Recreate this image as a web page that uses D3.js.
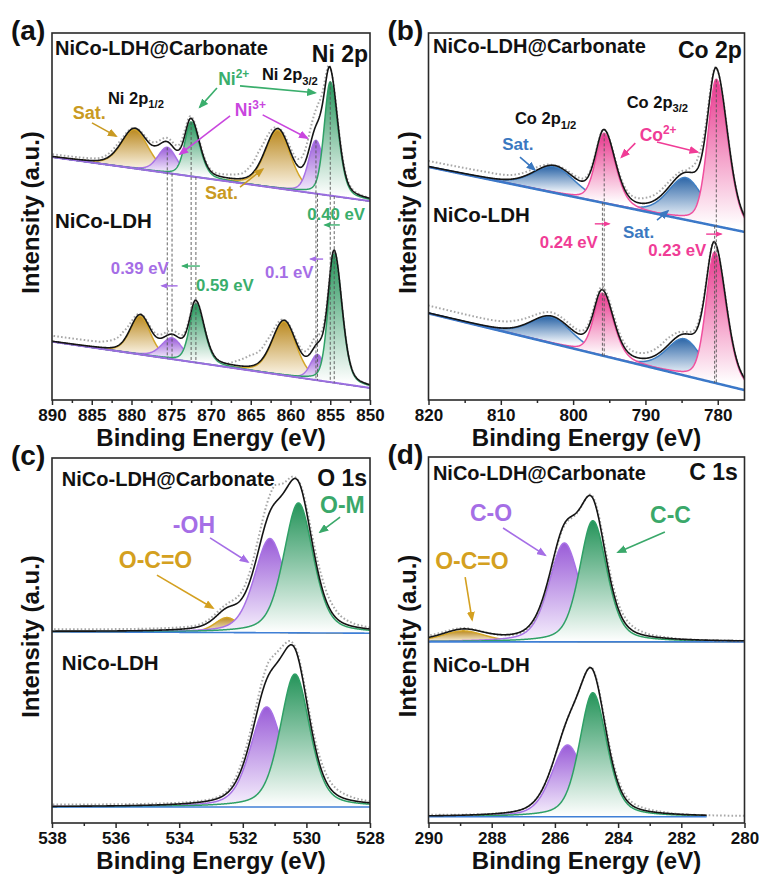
<!DOCTYPE html>
<html>
<head>
<meta charset="utf-8">
<script src="https://cdn.jsdelivr.net/npm/d3@7/dist/d3.min.js"></script>
<style>
  html, body { margin: 0; padding: 0; background: #fff; }
  svg text { font-family: Arial, "Liberation Sans", Helvetica, sans-serif; font-weight: bold; }
</style>
</head>
<body>
<svg id="chart" width="759" height="875"></svg>
<script>
// ======================= DATA =======================
// Intensities are in arbitrary units (0-100 across each panel's height).
// Each fitted component: centre (eV), height, FWHM on the high-BE side, FWHM on the low-BE side.

// ---- (a) Ni 2p ----
const niTicks = [890, 885, 880, 875, 870, 865, 860, 855, 850];
const niMinorTicks = [887.5, 882.5, 877.5, 872.5, 867.5, 862.5, 857.5, 852.5];
const niMix = 0.3;
const niCarbBackground = [66.2, 54.2];            // at 890 eV, at 850 eV
const niCarbKind   = ["sat", "ni3", "ni2", "sat", "ni3", "ni2"];
const niCarbCenter = [879.6, 875.5, 872.5, 861.6, 856.8, 855.0];
const niCarbHeight = [10.6, 7.0, 14.8, 15.8, 14.5, 31.0];
const niCarbFwhmHi = [4.0, 2.8, 1.9, 3.8, 2.2, 1.8];
const niCarbFwhmLo = [4.0, 2.8, 2.5, 3.8, 2.4, 2.3];
const niCarbResidE = [890, 884, 882, 879.6, 877, 875.5, 873.4, 872.5, 870, 866, 864, 863, 861.6, 859.4, 857.6, 856.4, 855, 853.5, 850];
const niCarbResidV = [0.6, 0.6, 1.1, 0, 1, 1, 1.5, 0.5, 0.4, 1.4, 3.5, 2.5, 0, 1.5, 4, 4.5, 0, 0.6, 0];

const niLdhBackground = [15.9, 3.3];
const niLdhKind   = ["sat", "ni3", "ni2", "sat", "ni3", "ni2"];
const niLdhCenter = [878.9, 874.9, 871.9, 860.8, 856.6, 854.5];
const niLdhHeight = [10.5, 5.8, 16.0, 14.6, 7.0, 35.0];
const niLdhFwhmHi = [3.0, 3.1, 1.9, 3.6, 2.1, 1.8];
const niLdhFwhmLo = [3.0, 3.1, 2.5, 3.6, 2.1, 2.3];
const niLdhResidE = [890, 884, 881, 878.9, 876.5, 874, 871.9, 868, 865, 863, 860.8, 858.5, 857, 856, 854.5, 852, 850];
const niLdhResidV = [1.5, 1.5, 2.5, 0, 1, 1, 0, 0, 3.0, 3.0, 0, 1, 2.5, 1.5, 0, 0, 0];

// ---- (b) Co 2p ----
const coTicks = [820, 810, 800, 790, 780];
const coMinorTicks = [815, 805, 795, 785];
const coMix = 0.3;
const coCarbBackground = [63.5, 45.8];            // at 820 eV, at 776.3 eV
const coCarbKind   = ["cosat", "co2", "cosat", "co2"];
const coCarbCenter = [802.6, 795.7, 784.4, 780.2];
const coCarbHeight = [7.1, 19.0, 11.5, 40.0];
const coCarbFwhmHi = [6.9, 2.8, 5.8, 2.8];
const coCarbFwhmLo = [6.9, 3.6, 5.8, 3.8];
const coCarbResidE = [820, 812, 805, 802.6, 799, 795.7, 790, 787, 784.4, 782.5, 780.2, 778, 776.3];
const coCarbResidV = [1.5, 1.5, 0.8, 0, 0.8, 0, 1.5, 1.5, 0.5, 3, 0, 0, 0];

const coLdhBackground = [23.6, 2.7];
const coLdhKind   = ["cosat", "co2", "cosat", "co2"];
const coLdhCenter = [803.0, 795.95, 784.6, 780.43];
const coLdhHeight = [7.1, 17.0, 10.0, 35.6];
const coLdhFwhmHi = [6.9, 2.8, 5.8, 2.8];
const coLdhFwhmLo = [6.9, 3.6, 5.8, 3.8];
const coLdhResidE = [820, 808, 804, 800, 796, 790, 787, 784.6, 782.5, 780.4, 776.3];
const coLdhResidV = [2, 1.8, 1, 1, 0.8, 1.5, 2, 0.5, 1, 0, 0];

// ---- (c) O 1s ----
const oTicks = [538, 536, 534, 532, 530, 528];
const oMinorTicks = [537, 535, 533, 531, 529];
const oMix = 0.4;
const oCarbBackground = [52.4, 52.0];             // at 538 eV, at 528 eV
const oCarbKind   = ["oco", "oh", "om"];
const oCarbCenter = [532.5, 531.15, 530.25];
const oCarbHeight = [4.1, 25.8, 35.6];
const oCarbFwhmHi = [0.9, 1.15, 1.1];
const oCarbFwhmLo = [0.9, 1.15, 1.1];
const oCarbResidE = [538, 536, 533.5, 532.5, 532, 531.5, 531, 530.7, 530.3, 529.8, 529.5, 529.2, 528.9, 528.5, 528];
const oCarbResidV = [0.5, 0.5, 0.5, 1, 2, 3.5, 5, 2.5, 0, 2, 2.8, 2.4, 1.5, 0.8, 0.4];

const oLdhBackground = [4.4, 4.4];
const oLdhKind   = ["oh", "om"];
const oLdhCenter = [531.25, 530.36];
const oLdhHeight = [27.4, 36.4];
const oLdhFwhmHi = [1.2, 1.1];
const oLdhFwhmLo = [1.2, 1.1];
const oLdhResidE = [538, 533, 532.5, 532, 531.6, 531.2, 530.8, 530.4, 530, 529.5, 529, 528.5, 528];
const oLdhResidV = [0.5, 0.3, 0.5, 1.8, 2.6, 3.6, 2.6, 0.5, 1.2, 2.2, 1.5, 0.8, 0.4];

// ---- (d) C 1s ----
const cTicks = [290, 288, 286, 284, 282, 280];
const cMinorTicks = [289, 287, 285, 283, 281];
const cMix = 0.4;
const cCarbBackground = [49.5, 49.5];             // at 290 eV, at 280 eV
const cCarbKind   = ["oco", "co", "cc"];
const cCarbCenter = [288.9, 285.7, 284.8];
const cCarbHeight = [3.0, 27.0, 33.1];
const cCarbFwhmHi = [1.6, 1.15, 1.0];
const cCarbFwhmLo = [1.6, 1.15, 1.05];
const cCarbResidE = [290, 288, 286.5, 285.5, 285, 284.3, 283.8, 283, 282, 280];
const cCarbResidV = [0.5, 0, -0.5, -0.5, 0, 1.5, 1.5, 0.5, 0, 0];

const cLdhBackground = [1.7, 1.7];
const cLdhFitRange = [290, 281.2];
const cLdhKind   = ["co", "cc"];
const cLdhCenter = [285.6, 284.8];
const cLdhHeight = [19.6, 33.9];
const cLdhFwhmHi = [1.2, 1.0];
const cLdhFwhmLo = [1.2, 1.05];
const cLdhResidE = [290, 288, 286, 285, 284.2, 283.8, 283, 282, 280];
const cLdhResidV = [0.3, 0, 0, 0, 1, 1, 0.5, 0, 0];

// ======================= DRAWING =======================
const svg = d3.select("#chart");
const defs = svg.append("defs");

const GOLD   = { stroke: "#d4a628", top: "#bb8a22", bottom: "#faf3e4" };
const PURPLE = { stroke: "#a872e6", top: "#9a5cd8", bottom: "#f7f1fd" };
const GREEN  = { stroke: "#2fa066", top: "#25945a", bottom: "#ffffff" };
const PINK   = { stroke: "#f04f9e", top: "#e8378d", bottom: "#ffffff" };
const BLUE   = { stroke: "#3f7fc4", top: "#2e67a8", bottom: "#f4f8fc" };
const STYLE = { sat: GOLD, oco: GOLD, ni3: PURPLE, oh: PURPLE, co: PURPLE,
                ni2: GREEN, om: GREEN, cc: GREEN, co2: PINK, cosat: BLUE };
const DRAW_ORDER = { sat: 0, cosat: 0, oco: 0, ni3: 1, oh: 1, co: 1, ni2: 2, co2: 2, om: 2, cc: 2 };

let uid = 0;
function gradient(st, y1, y2) {
  const id = "gr" + (uid++);
  const lg = defs.append("linearGradient").attr("id", id)
    .attr("gradientUnits", "userSpaceOnUse")
    .attr("x1", 0).attr("x2", 0).attr("y1", y1).attr("y2", y2);
  lg.append("stop").attr("offset", 0).attr("stop-color", st.top);
  lg.append("stop").attr("offset", 1).attr("stop-color", st.bottom);
  return id;
}
const markerCache = {};
function marker(color, size) {
  const key = color + "_" + size;
  if (markerCache[key]) return markerCache[key];
  const id = "mk" + (uid++);
  defs.append("marker").attr("id", id)
    .attr("viewBox", "0 0 10 10").attr("refX", 8).attr("refY", 5)
    .attr("markerUnits", "userSpaceOnUse")
    .attr("markerWidth", size).attr("markerHeight", size * 0.8)
    .attr("preserveAspectRatio", "none")
    .attr("orient", "auto")
    .append("path").attr("d", "M0,0 L10,5 L0,10 Z").attr("fill", color);
  markerCache[key] = id;
  return id;
}

function spec(background, kind, center, height, fwHi, fwLo, residE, residV, fit) {
  return { background, kind, center, height, fwHi, fwLo, residE, residV, fit };
}

function model(s, dom, mix) {
  const base = E => s.background[0] + (s.background[1] - s.background[0]) * (E - dom[0]) / (dom[1] - dom[0]);
  const comp = (i, E) => {
    const d = E - s.center[i];
    const w = d >= 0 ? s.fwHi[i] : s.fwLo[i];
    const t = d / w;
    return s.height[i] * (mix / (1 + 4 * t * t) + (1 - mix) * Math.exp(-4 * Math.LN2 * t * t));
  };
  const env = E => base(E) + d3.sum(s.center, (c, i) => comp(i, E));
  return { s, base, comp, env };
}

function richText(g, px, py, parts, size, color, anchor) {
  const t = g.append("text").attr("x", px).attr("y", py)
    .attr("font-size", size).attr("fill", color)
    .attr("text-anchor", anchor || "start");
  parts.forEach(([str, mode]) => {
    const ts = t.append("tspan").text(str);
    if (mode === "sub") ts.attr("font-size", size * 0.68).attr("dy", size * 0.28);
    else if (mode === "sup") ts.attr("font-size", size * 0.68).attr("dy", -size * 0.42);
  });
  return t;
}

function drawPanel(p) {
  const x = d3.scaleLinear().domain(p.xDomain).range([p.left, p.right]);
  const y = d3.scaleLinear().domain([0, 100]).range([p.bottom, p.top]);
  const g = svg.append("g");
  const clipId = "clip" + p.id;
  defs.append("clipPath").attr("id", clipId).append("rect")
    .attr("x", p.left).attr("y", p.top)
    .attr("width", p.right - p.left).attr("height", p.bottom - p.top);
  const plot = g.append("g").attr("clip-path", `url(#${clipId})`);

  const lo = Math.min(...p.xDomain), hi = Math.max(...p.xDomain);
  const models = p.spectra.map(s => model(s, p.xDomain, p.mix));

  models.forEach(m => {
    const s = m.s;
    const fit = s.fit || p.xDomain;
    const fLo = Math.min(...fit), fHi = Math.max(...fit);
    const grid = d3.range(fLo, fHi + p.step / 2, p.step);
    const order = d3.range(s.center.length)
      .sort((a, b) => DRAW_ORDER[s.kind[a]] - DRAW_ORDER[s.kind[b]]);
    order.forEach(i => {
      const st = STYLE[s.kind[i]];
      const c = s.center[i];
      const gid = gradient(st, y(m.base(c) + s.height[i]), y(m.base(c)));
      plot.append("path").datum(grid)
        .attr("fill", `url(#${gid})`)
        .attr("d", d3.area().x(E => x(E)).y0(E => y(m.base(E))).y1(E => y(m.base(E) + m.comp(i, E))));
      plot.append("path").datum(grid)
        .attr("fill", "none").attr("stroke", st.stroke).attr("stroke-width", 1.5)
        .attr("d", d3.line().x(E => x(E)).y(E => y(m.base(E) + m.comp(i, E))));
    });
    // background line
    plot.append("path").datum(grid)
      .attr("fill", "none").attr("stroke", p.baseColor).attr("stroke-width", p.baseWidth)
      .attr("d", d3.line().x(E => x(E)).y(E => y(m.base(E))));
    // measured data (grey dots)
    const resid = d3.scaleLinear().domain(s.residE).range(s.residV).clamp(true);
    const dgrid = d3.range(lo, hi + p.step / 2, p.step);
    plot.append("path").datum(dgrid)
      .attr("fill", "none").attr("stroke", "#a8a8a8").attr("stroke-width", 2)
      .attr("stroke-dasharray", "1.6,2.2")
      .attr("d", d3.line().x(E => x(E)).y(E => y(m.env(E) + resid(E))));
    // fitted envelope
    plot.append("path").datum(grid)
      .attr("fill", "none").attr("stroke", "#151515").attr("stroke-width", 1.6)
      .attr("d", d3.line().x(E => x(E)).y(E => y(m.env(E))));
  });

  // dashed reference lines through peak centres
  if (p.dashKinds) {
    const top = models[0], bot = models[1];
    models.forEach((m, si) => {
      m.s.center.forEach((c, i) => {
        if (!p.dashKinds.includes(m.s.kind[i])) return;
        const y1 = si === 0 ? y(top.base(c) + m.s.height[i]) : y(top.base(c));
        plot.append("line")
          .attr("x1", x(c)).attr("x2", x(c))
          .attr("y1", y1).attr("y2", y(bot.base(c)))
          .attr("stroke", "#555").attr("stroke-width", 0.9)
          .attr("stroke-dasharray", "3,2");
      });
    });
  }

  // annotations
  const ann = g.append("g");
  const T = (E, v, parts, size, color, anchor) => richText(ann, x(E), y(v), parts, size, color, anchor);
  const A = (E1, v1, E2, v2, color, w, size) => ann.append("line")
    .attr("x1", x(E1)).attr("y1", y(v1)).attr("x2", x(E2)).attr("y2", y(v2))
    .attr("stroke", color).attr("stroke-width", w || 1.6)
    .attr("marker-end", `url(#${marker(color, size || 10)})`);
  p.annotate(T, A);

  // frame
  g.append("rect").attr("x", p.left).attr("y", p.top)
    .attr("width", p.right - p.left).attr("height", p.bottom - p.top)
    .attr("fill", "none").attr("stroke", "#2a2a2a").attr("stroke-width", 1.6);

  // axes
  const major = g.append("g").attr("transform", `translate(0,${p.bottom})`)
    .call(d3.axisBottom(x).tickValues(p.ticks).tickSize(5).tickPadding(4)
      .tickSizeOuter(0).tickFormat(d3.format("d")));
  const minor = g.append("g").attr("transform", `translate(0,${p.bottom})`)
    .call(d3.axisBottom(x).tickValues(p.minor).tickSize(3).tickSizeOuter(0).tickFormat(""));
  [major, minor].forEach(a => {
    a.select(".domain").remove();
    a.selectAll("line").attr("stroke", "#2a2a2a").attr("stroke-width", 1.5);
  });
  major.attr("font-family", null).attr("font-size", null);
  major.selectAll("text").attr("font-size", 17).attr("fill", "#111");

  // axis titles
  g.append("text").attr("x", (p.left + p.right) / 2).attr("y", p.bottom + 46)
    .attr("text-anchor", "middle").attr("font-size", 24).attr("fill", "#111")
    .text("Binding Energy (eV)");
  g.append("text")
    .attr("transform", `translate(${p.left - 13},${(p.top + p.bottom) / 2 - 4}) rotate(-90)`)
    .attr("text-anchor", "middle").attr("font-size", 24).attr("fill", "#111")
    .text("Intensity (a.u.)");
  g.append("text").attr("x", p.left - 41).attr("y", p.top + 7)
    .attr("font-size", 28).attr("fill", "#111").text(p.label);
}

const INK = "#111";
const NI2 = "#3aae6c", NI3 = "#c946de", SATG = "#c99a22", LPURP = "#a56ee6";
const CO2C = "#f03c96", SATB = "#3a78c0";
const OM = "#3aa86a", OH = "#a56ee6", OCO = "#d4a020";

// (a) Ni 2p
drawPanel({
  id: "a", label: "(a)", left: 52, right: 370, top: 33, bottom: 400,
  xDomain: [890, 850], ticks: niTicks, minor: niMinorTicks, mix: niMix, step: 0.05,
  baseColor: "#9a6ee0", baseWidth: 2, dashKinds: ["ni2", "ni3"],
  spectra: [
    spec(niCarbBackground, niCarbKind, niCarbCenter, niCarbHeight, niCarbFwhmHi, niCarbFwhmLo, niCarbResidE, niCarbResidV),
    spec(niLdhBackground, niLdhKind, niLdhCenter, niLdhHeight, niLdhFwhmHi, niLdhFwhmLo, niLdhResidE, niLdhResidV)
  ],
  annotate: (T, A) => {
    T(889.62, 94.0, [["NiCo-LDH@Carbonate"]], 20, INK);
    T(850.25, 92.1, [["Ni 2p"]], 23, INK, "end");
    T(889.62, 46.9, [["NiCo-LDH"]], 20.5, INK);
    T(882.96, 80.7, [["Ni 2p"], ["1/2", "sub"]], 16.5, INK);
    T(863.6, 87.2, [["Ni 2p"], ["3/2", "sub"]], 16.5, INK);
    T(869.1, 85.8, [["Ni"], ["2+", "sup"]], 17.5, NI2);
    T(867.0, 77.4, [["Ni"], ["3+", "sup"]], 17.5, NI3);
    T(887.4, 76.6, [["Sat."]], 18, SATG);
    T(870.75, 54.8, [["Sat."]], 18, SATG);
    A(884.97, 75.5, 881.95, 71.9, SATG);
    A(866.35, 58.0, 863.5, 62.9, SATG);
    A(869.25, 85.0, 871.4, 79.8, NI2);
    A(866.35, 85.6, 856.9, 83.7, NI2);
    A(867.6, 77.4, 873.9, 67.0, NI3);
    A(863.5, 77.7, 857.9, 71.4, NI3);
    T(857.9, 49.0, [["0.40 eV"]], 16.8, NI2);
    T(882.6, 34.3, [["0.39 eV"]], 16.8, LPURP);
    T(871.9, 29.7, [["0.59 eV"]], 16.8, NI2);
    T(863.2, 33.2, [["0.1 eV"]], 16.8, LPURP);
    A(853.8, 47.7, 855.7, 47.7, NI2, 1.4, 7);
    A(874.2, 31.1, 876.2, 31.1, LPURP, 1.4, 7);
    A(871.4, 36.5, 873.6, 36.5, NI2, 1.4, 7);
    A(855.9, 38.4, 857.5, 38.4, LPURP, 1.4, 7);
  }
});

// (b) Co 2p
drawPanel({
  id: "b", label: "(b)", left: 428.5, right: 744.5, top: 33, bottom: 400,
  xDomain: [820, 776.3], ticks: coTicks, minor: coMinorTicks, mix: coMix, step: 0.05,
  baseColor: "#3b78c8", baseWidth: 2.5, dashKinds: ["co2"],
  spectra: [
    spec(coCarbBackground, coCarbKind, coCarbCenter, coCarbHeight, coCarbFwhmHi, coCarbFwhmLo, coCarbResidE, coCarbResidV),
    spec(coLdhBackground, coLdhKind, coLdhCenter, coLdhHeight, coLdhFwhmHi, coLdhFwhmLo, coLdhResidE, coLdhResidV)
  ],
  annotate: (T, A) => {
    T(819.38, 94.6, [["NiCo-LDH@Carbonate"]], 20, INK);
    T(776.67, 93.2, [["Co 2p"]], 23, INK, "end");
    T(819.38, 48.5, [["NiCo-LDH"]], 20.5, INK);
    T(808.05, 75.2, [["Co 2p"], ["1/2", "sub"]], 16.5, INK);
    T(792.6, 79.6, [["Co 2p"], ["3/2", "sub"]], 16.5, INK);
    T(790.8, 70.6, [["Co"], ["2+", "sup"]], 17.5, CO2C);
    T(809.8, 68.1, [["Sat."]], 17, SATB);
    T(793.1, 44.1, [["Sat."]], 17, SATB);
    A(791.4, 70.0, 793.3, 66.2, CO2C);
    A(788.4, 70.3, 782.8, 67.6, CO2C);
    A(807.35, 66.2, 805.3, 62.7, SATB);
    A(788.4, 49.0, 786.9, 51.5, SATB);
    T(804.6, 41.4, [["0.24 eV"]], 16.8, CO2C);
    T(789.6, 39.2, [["0.23 eV"]], 16.8, CO2C);
    A(797.0, 48.0, 795.0, 48.0, CO2C, 1.4, 7);
    A(781.6, 45.2, 779.5, 45.2, CO2C, 1.4, 7);
  }
});

// (c) O 1s
drawPanel({
  id: "c", label: "(c)", left: 52, right: 370, top: 458, bottom: 823,
  xDomain: [538, 528], ticks: oTicks, minor: oMinorTicks, mix: oMix, step: 0.01,
  baseColor: "#3f7fd6", baseWidth: 1.6,
  spectra: [
    spec(oCarbBackground, oCarbKind, oCarbCenter, oCarbHeight, oCarbFwhmHi, oCarbFwhmLo, oCarbResidE, oCarbResidV),
    spec(oLdhBackground, oLdhKind, oLdhCenter, oLdhHeight, oLdhFwhmHi, oLdhFwhmLo, oLdhResidE, oLdhResidV)
  ],
  annotate: (T, A) => {
    T(537.69, 92.3, [["NiCo-LDH@Carbonate"]], 20, INK);
    T(528.09, 92.3, [["O 1s"]], 23, INK, "end");
    T(537.69, 41.9, [["NiCo-LDH"]], 20.5, INK);
    T(529.57, 84.9, [["O-M"]], 23, OM);
    T(534.2, 79.5, [["-OH"]], 23, OH);
    T(535.9, 69.9, [["O-C=O"]], 23, OCO);
    A(528.94, 83.8, 529.57, 79.7, OM);
    A(533.03, 78.1, 531.84, 71.5, OH);
    A(534.7, 67.9, 532.94, 58.9, OCO);
  }
});

// (d) C 1s
drawPanel({
  id: "d", label: "(d)", left: 428.5, right: 744.5, top: 457, bottom: 823,
  xDomain: [290, 280], ticks: cTicks, minor: cMinorTicks, mix: cMix, step: 0.01,
  baseColor: "#3f7fd6", baseWidth: 1.6,
  spectra: [
    spec(cCarbBackground, cCarbKind, cCarbCenter, cCarbHeight, cCarbFwhmHi, cCarbFwhmLo, cCarbResidE, cCarbResidV),
    spec(cLdhBackground, cLdhKind, cLdhCenter, cLdhHeight, cLdhFwhmHi, cLdhFwhmLo, cLdhResidE, cLdhResidV, cLdhFitRange)
  ],
  annotate: (T, A) => {
    T(289.86, 93.7, [["NiCo-LDH@Carbonate"]], 20, INK);
    T(280.21, 93.7, [["C 1s"]], 23, INK, "end");
    T(289.86, 41.3, [["NiCo-LDH"]], 20.5, INK);
    T(288.69, 82.5, [["C-O"]], 23, OH);
    T(282.99, 82.0, [["C-C"]], 23, OM);
    T(289.79, 69.4, [["O-C=O"]], 23, OCO);
    A(287.64, 80.6, 286.31, 73.2, OH);
    A(282.52, 79.5, 284.0, 74.0, OM);
    A(288.84, 67.2, 288.62, 55.5, OCO);
  }
});
</script>
</body>
</html>
